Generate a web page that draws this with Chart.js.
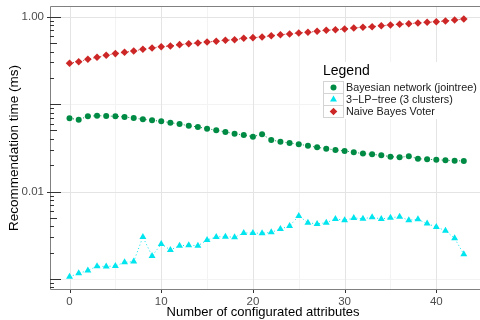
<!DOCTYPE html>
<html>
<head>
<meta charset="utf-8">
<script src="https://cdn.jsdelivr.net/npm/chart.js@4/dist/chart.umd.min.js"></script>
<style>
html, body { margin: 0; padding: 0; background: #fff; }
</style>
</head>
<body>
<canvas id="myChart" width="480" height="320"></canvas>
<script>
// number of configurated attributes
var attributes = [0,1,2,3,4,5,6,7,8,9,10,11,12,13,14,15,16,17,18,19,20,21,
  22,23,24,25,26,27,28,29,30,31,32,33,34,35,36,37,38,39,40,41,42,43];

// recommendation time (ms)
var bayesNet = [0.0690,0.0665,0.0727,0.0739,0.0733,0.0727,0.0714,0.0695,0.0672,0.0654,
  0.0637,0.0614,0.0593,0.0567,0.0548,0.0525,0.0503,0.0481,0.0460,0.0444,0.0425,0.0453,
  0.0389,0.0372,0.0360,0.0348,0.0335,0.0321,0.0310,0.0299,0.0292,0.0282,0.0272,0.0267,
  0.0260,0.0251,0.0247,0.0253,0.0238,0.0234,0.0232,0.0228,0.0226,0.0224];
var lpTree = [0.00106,0.00116,0.00125,0.00140,0.00139,0.00141,0.00155,0.00158,0.00303,0.00183,
  0.00251,0.00215,0.00240,0.00243,0.00240,0.00279,0.00303,0.00305,0.00300,0.00336,0.00336,
  0.00333,0.00342,0.00373,0.00404,0.00526,0.00441,0.00426,0.00441,0.00486,0.00470,0.00499,
  0.00490,0.00508,0.00486,0.00502,0.00516,0.00470,0.00482,0.00430,0.00394,0.00357,0.00292,0.00192];
var naiveBayes = [0.294,0.306,0.327,0.344,0.363,0.379,0.393,0.406,0.425,0.440,0.455,0.464,
  0.480,0.492,0.501,0.515,0.525,0.539,0.547,0.568,0.577,0.587,0.608,0.624,0.636,0.653,
  0.665,0.683,0.701,0.712,0.725,0.745,0.758,0.770,0.791,0.806,0.821,0.834,0.849,0.865,
  0.879,0.895,0.919,0.944];

var seriesNames = ["Bayesian network (jointree)", "3\u2212LP\u2212tree (3 clusters)", "Naive Bayes Voter"];

var xTicks = [0, 10, 20, 30, 40];
var xMinorGrid = [5, 15, 25, 35];
var yTicks = [0.01, 1];
var yTickLabels = ["0.01", "1.00"];
var yMinorGrid = [0.001, 0.1];

var FONT = '"Liberation Sans", Arial, Helvetica, sans-serif';

function pts(values) {
  return attributes.map(function(a, i){ return {x: a, y: values[i]}; });
}

function noPad(s) {
  s.paddingTop = 0; s.paddingBottom = 0; s.paddingLeft = 0; s.paddingRight = 0;
}

var extras = {
  id: 'extras',
  beforeDatasetsDraw: function(chart) {
    var ctx = chart.ctx, a = chart.chartArea, xs = chart.scales.x, ys = chart.scales.y;
    var right = chart.width;
    ctx.save();
    ctx.lineWidth = 1;
    function vline(v, c){ var p = Math.round(xs.getPixelForValue(v)) + 0.5;
      ctx.strokeStyle = c; ctx.beginPath(); ctx.moveTo(p, a.top); ctx.lineTo(p, a.bottom); ctx.stroke(); }
    function hline(v, c){ var p = Math.round(ys.getPixelForValue(v)) + 0.5;
      ctx.strokeStyle = c; ctx.beginPath(); ctx.moveTo(a.left, p); ctx.lineTo(right, p); ctx.stroke(); }
    xMinorGrid.forEach(function(v){ vline(v, '#f3f3f3'); });
    yMinorGrid.forEach(function(v){ hline(v, '#f3f3f3'); });
    xTicks.forEach(function(v){ vline(v, '#e4e4e4'); });
    yTicks.forEach(function(v){ hline(v, '#e4e4e4'); });
    ctx.restore();
  },
  afterDatasetsDraw: function(chart) {
    var ctx = chart.ctx, a = chart.chartArea, xs = chart.scales.x, ys = chart.scales.y;
    var right = chart.width;
    ctx.save();
    ctx.lineWidth = 1;
    // frame: top, left, bottom (the panel runs on past the right edge)
    ctx.strokeStyle = '#808080';
    ctx.beginPath();
    ctx.moveTo(right, a.top + 0.5); ctx.lineTo(a.left + 0.5, a.top + 0.5);
    ctx.lineTo(a.left + 0.5, a.bottom - 0.5); ctx.lineTo(right, a.bottom - 0.5);
    ctx.stroke();

    // log ticks on the left
    ctx.strokeStyle = '#333';
    [0.0001, 0.001, 0.01, 0.1, 1].forEach(function(d){
      for (var m = 1; m <= 9; m++) {
        var v = m * d;
        if (v < ys.min || v > ys.max) continue;
        var len = m == 1 ? 11 : (m == 5 ? 7 : 4);
        var p = Math.round(ys.getPixelForValue(v)) + 0.5;
        ctx.beginPath(); ctx.moveTo(a.left, p); ctx.lineTo(a.left + len, p); ctx.stroke();
      }
    });
    yTicks.forEach(function(v){
      var p = Math.round(ys.getPixelForValue(v)) + 0.5;
      ctx.beginPath(); ctx.moveTo(a.left - 3, p); ctx.lineTo(a.left, p); ctx.stroke();
    });
    xTicks.forEach(function(v){
      var p = Math.round(xs.getPixelForValue(v)) + 0.5;
      ctx.beginPath(); ctx.moveTo(p, a.bottom); ctx.lineTo(p, a.bottom + 3); ctx.stroke();
    });

    // legend
    var lx = 323, ly = 81, rowH = 12;
    ctx.fillStyle = '#fff';
    ctx.fillRect(lx - 3, 62, 480 - lx + 3, ly + rowH * 3 + 2 - 62);
    ctx.fillStyle = '#000';
    ctx.textBaseline = 'middle';
    ctx.textAlign = 'left';
    ctx.font = '14px ' + FONT;
    ctx.fillText('Legend', lx, 71.5);
    ctx.font = '10.8px ' + FONT;
    chart.data.datasets.forEach(function(ds, i){
      var top = ly + i * rowH;
      ctx.strokeStyle = '#d4d4d4';
      ctx.strokeRect(lx + 0.5, top + 0.5, 20, rowH);
      ctx.fillStyle = ds.pointBackgroundColor;
      Chart.helpers.drawPoint(ctx, {pointStyle: ds.pointStyle, radius: ds.pointRadius, rotation: 0, borderWidth: 0},
        lx + 10.5, top + rowH / 2 + 0.5);
      ctx.fillStyle = '#1a1a1a';
      ctx.fillText(ds.label, lx + 23, top + rowH / 2 + 1);
    });
    ctx.restore();
  }
};

var config = {
  type: 'scatter',
  data: {
    datasets: [{
      label: seriesNames[0],
      data: pts(bayesNet),
      showLine: true,
      borderColor: '#008b45',
      borderWidth: 1,
      borderDash: [1, 2.5],
      pointStyle: 'circle',
      pointRadius: 3,
      pointBackgroundColor: '#008b45',
      pointBorderWidth: 0
    }, {
      label: seriesNames[1],
      data: pts(lpTree),
      showLine: true,
      borderColor: '#00e5ee',
      borderWidth: 1,
      borderDash: [1, 2.5],
      pointStyle: 'triangle',
      pointRadius: 4,
      pointBackgroundColor: '#00e5ee',
      pointBorderWidth: 0
    }, {
      label: seriesNames[2],
      data: pts(naiveBayes),
      showLine: true,
      borderColor: '#cd2626',
      borderWidth: 1,
      borderDash: [1, 2.5],
      pointStyle: 'rectRot',
      pointRadius: 3.8,
      pointBackgroundColor: '#cd2626',
      pointBorderWidth: 0
    }]
  },
  plugins: [extras],
  options: {
    responsive: false,
    animation: false,
    clip: false,
    layout: { padding: { top: 6, left: 0, right: 0, bottom: 0 } },
    plugins: { legend: { display: false }, tooltip: { enabled: false } },
    scales: {
      x: {
        type: 'linear',
        min: -2.13,
        max: 44.33,
        afterBuildTicks: function(s){ s.ticks = xTicks.map(function(v){ return {value: v}; }); },
        afterFit: function(s){ s.height = 30; noPad(s); },
        grid: { display: false, drawTicks: false },
        border: { display: false },
        ticks: { color: '#4d4d4d', font: { family: FONT, size: 11.5 }, padding: 5, maxRotation: 0 },
        title: { display: true, text: 'Number of configurated attributes', color: '#000',
          font: { family: FONT, size: 13 }, padding: { top: 0, bottom: 0 } }
      },
      y: {
        type: 'logarithmic',
        min: 0.000748,
        max: 1.329,
        afterBuildTicks: function(s){ s.ticks = yTicks.map(function(v){ return {value: v}; }); },
        afterFit: function(s){ s.width = 50; noPad(s); },
        grid: { display: false, drawTicks: false },
        border: { display: false },
        ticks: {
          color: '#4d4d4d', font: { family: FONT, size: 11.5 }, padding: 6,
          callback: function(v){ var i = yTicks.indexOf(v); return i >= 0 ? yTickLabels[i] : ''; }
        },
        title: { display: true, text: 'Recommendation time (ms)', color: '#000',
          font: { family: FONT, size: 13.5 }, padding: { top: 6, bottom: 0 } }
      }
    }
  }
};

new Chart(document.getElementById('myChart').getContext('2d'), config);
</script>
</body>
</html>
